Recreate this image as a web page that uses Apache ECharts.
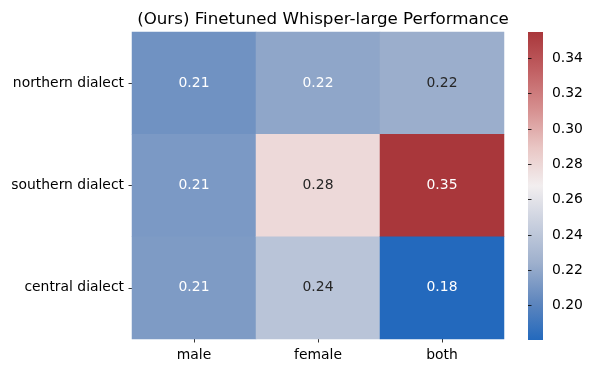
<!DOCTYPE html>
<html>
<head>
<meta charset="utf-8">
<script src="https://cdn.jsdelivr.net/npm/echarts@6/dist/echarts.min.js"></script>
<style>
html,body{margin:0;padding:0;background:#fff;}
#c{width:593px;height:374px;}
</style>
</head>
<body>
<div id="c"></div>
<script>
// ---- data ----
const xCats = ['male', 'female', 'both'];
const yCats = ['northern dialect', 'southern dialect', 'central dialect'];
const maleVals = [0.208, 0.212, 0.213];
const femaleVals = [0.219, 0.279, 0.238];
const bothVals = [0.223, 0.3548, 0.1806];
const cbarTicks = [0.20, 0.22, 0.24, 0.26, 0.28, 0.30, 0.32, 0.34];
const titleText = '(Ours) Finetuned Whisper-large Performance';

// ---- vlag-like colormap ----
const vlag = [
  [35,105,189],[96,135,190],[158,176,205],[200,207,222],[242,238,239],
  [233,198,196],[214,143,143],[193,96,99],[169,55,59]
];
function hex(c){return '#'+c.map(v=>Math.round(v).toString(16).padStart(2,'0')).join('');}
function cmap(t){
  t = Math.max(0, Math.min(1, t));
  const p = t*(vlag.length-1); const i = Math.min(Math.floor(p), vlag.length-2); const f = p-i;
  return vlag[i].map((v,k)=>v+(vlag[i+1][k]-v)*f);
}
function lum(c){
  const l = c.map(v=>{v/=255; return v<=0.03928? v/12.92 : Math.pow((v+0.055)/1.055,2.4);});
  return 0.2126*l[0]+0.7152*l[1]+0.0722*l[2];
}
const cols = [maleVals, femaleVals, bothVals];
const all = [].concat(...cols);
const vmin = Math.min(...all), vmax = Math.max(...all);

const data = [];
cols.forEach((arr, xi) => arr.forEach((v, yi) => {
  const c = cmap((v - vmin)/(vmax - vmin));
  data.push({value: [xi, yi, v], label: {color: lum(c) > 0.408 ? '#262626' : '#ffffff'}});
}));

const font = 'DejaVu Sans';
const cb = {x: 528, y: 32, w: 15, h: 308};
const chart = echarts.init(document.getElementById('c'), null, {renderer: 'canvas'});
chart.setOption({
  animation: false,
  backgroundColor: '#ffffff',
  title: {
    text: titleText, left: 318, top: 6, textAlign: 'center',
    textStyle: {fontFamily: font, fontSize: 16.7, fontWeight: 'normal', color: '#000'}
  },
  grid: [
    {left: 132, top: 32, width: 372, height: 307},
    {left: cb.x, top: cb.y, width: cb.w, height: cb.h}
  ],
  xAxis: [
    {type: 'category', data: xCats, gridIndex: 0, position: 'bottom',
     axisLine: {show: false}, splitLine: {show: false},
     axisTick: {show: true, inside: false, alignWithLabel: true, length: 3.5, lineStyle: {color: '#000', width: 0.8}},
     axisLabel: {margin: 9, color: '#000', fontFamily: font, fontSize: 13.9}},
    {type: 'value', gridIndex: 1, show: false, min: 0, max: 1}
  ],
  yAxis: [
    {type: 'category', data: yCats, gridIndex: 0, inverse: true,
     axisLine: {show: false}, splitLine: {show: false},
     axisTick: {show: true, inside: false, alignWithLabel: true, length: 3.5, lineStyle: {color: '#000', width: 0.8}},
     axisLabel: {margin: 8, color: '#000', fontFamily: font, fontSize: 13.9}},
    {type: 'value', gridIndex: 1, position: 'right', min: vmin, max: vmax,
     axisLine: {show: false}, splitLine: {show: false},
     axisTick: {show: true, inside: false, length: 3.5, customValues: cbarTicks, lineStyle: {color: '#000', width: 0.8}},
     axisLabel: {margin: 9, color: '#000', fontFamily: font, fontSize: 13.9, customValues: cbarTicks,
                 formatter: v => Number(v).toFixed(2)}}
  ],
  visualMap: {
    type: 'continuous', min: vmin, max: vmax, seriesIndex: 0, show: false,
    inRange: {color: vlag.map(hex)}
  },
  graphic: [{
    type: 'rect', z: -1,
    shape: {x: cb.x, y: cb.y, width: cb.w, height: cb.h},
    style: {fill: new echarts.graphic.LinearGradient(0, 1, 0, 0,
      vlag.map((c, i) => ({offset: i/(vlag.length-1), color: hex(c)})))}
  }],
  series: [
    {type: 'heatmap', xAxisIndex: 0, yAxisIndex: 0, data: data,
     label: {show: true, fontFamily: font, fontSize: 13.9, formatter: p => p.value[2].toFixed(2)},
     itemStyle: {borderWidth: 0}, emphasis: {disabled: true}},
    {type: 'line', xAxisIndex: 1, yAxisIndex: 1, data: [], silent: true}
  ]
});
</script>
</body>
</html>
